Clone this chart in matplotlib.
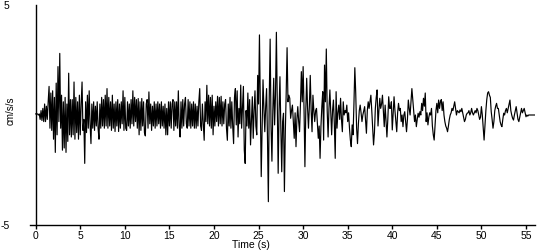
import numpy as np
import matplotlib
matplotlib.use("Agg")
import matplotlib.pyplot as plt

plt.rcParams['font.family'] = ['Liberation Sans', 'DejaVu Sans']

# sampling interval (s) of the hand-read trace
dt = 0.1

# acceleration values (cm/s/s), one row per second
accel = [
    0.05, 0.05, 0.05, 0.0, 0.05, -0.2, 0.2, -0.25, 0.3, -0.3,
    0.5, -0.3, 0.4, -0.2, 0.6, 1.3, -0.6, 1.0, -0.7, 1.1,
    -1.1, 0.8, -1.7, 1.45, -0.9, 2.2, -0.3, 2.8, -0.6, 0.9,
    -1.6, 0.6, -1.5, 0.8, -1.7, 0.5, -1.2, 1.9, -0.9, 0.7,
    -1.0, 0.7, -0.9, 1.5, -1.1, 0.8, -0.8, 0.6, -1.1, 0.9,
    -0.9, 0.5, 1.5, -0.7, -0.2, -2.2, 0.6, -0.8, 0.9, -0.6,
    1.1, -0.4, -1.3, 0.5, -0.6, 0.6, -0.7, 0.4, -0.5, 0.6,
    -0.6, -1.1, 0.5, -0.6, 0.8, -0.5, 0.7, -0.6, 0.9, -0.5,
    1.2, -0.6, 0.8, -0.5, 0.6, -0.7, 0.9, -0.6, 0.5, -0.75,
    0.6, -0.5, 0.7, -0.75, 0.5, -0.6, 0.6, -0.4, 1.1, -0.7,
    0.8, -0.6, -0.7, 0.6, -0.5, 0.5, -0.6, 0.7, -0.4, 1.1,
    -0.5, 0.8, -0.3, 0.7, -0.6, 0.75, -0.9, 0.6, -0.7, 0.75,
    -0.5, 0.6, -0.8, -0.95, 0.5, 0.7, -0.6, 1.05, -0.4, 0.5,
    -0.7, 0.4, -0.5, 0.6, -0.6, 0.5, -0.5, 0.6, -0.4, 0.5,
    -0.6, 0.6, -0.5, 0.4, -0.6, 0.5, -0.9, 0.3, -0.9, 0.6,
    -0.5, 0.6, -0.6, 0.5, 0.7, -0.7, 0.6, -0.5, 0.6, -0.6,
    1.1, -0.5, -1.0, 0.6, -0.6, 0.7, -0.5, 0.5, 0.8, -0.4,
    -0.6, 0.7, -0.5, 0.6, -0.6, 0.5, -0.5, 0.6, -0.6, 0.5,
    -0.6, 0.4, -0.5, 0.6, 1.2, -0.5, -0.7, 0.5, -0.4, -1.15,
    0.6, -0.3, 1.35, -0.4, 0.9, -0.5, 0.8, -0.6, 0.9, -0.9,
    0.4, -0.5, 0.6, -0.3, 0.85, -0.5, 0.8, -0.4, 0.85, -0.5,
    0.6, -0.4, 0.5, 0.7, -0.6, -1.15, 0.5, -0.5, 0.8, -0.6,
    0.6, -0.5, -1.3, 0.8, 1.2, -0.45, 1.1, -1.0, 0.3, -0.4,
    1.36, -0.6, 0.4, 1.3, -1.6, -2.2, 0.2, -0.5, 1.0, -0.6,
    0.7, -1.36, -0.3, 0.83, -1.06, 0.2, 1.1, -0.5, -0.9, 1.8,
    0.5, 3.64, 0.3, -2.8, -0.5, 1.6, 0.3, -0.76, 0.4, 1.2,
    -1.0, -3.94, 0.8, 3.45, -0.5, -2.1, 0.2, 1.67, -0.45, 0.9,
    3.76, 0.5, -2.65, 0.2, 1.74, -0.6, -2.58, -0.3, 0.08, -3.48,
    -0.8, 1.0, 3.06, 0.6, 0.9, 0.76, -0.15, 0.2, 0.45, -0.3,
    -1.06, 0.1, -1.44, -0.2, 0.38, -0.3, -0.76, 0.5, 1.97, 0.6,
    2.2, 0.3, -2.35, 0.2, 1.67, 0.3, -0.6, 0.4, 1.8, 0.2,
    -0.76, 0.9, 0.2, -0.3, 0.2, 0.3, -0.4, -1.06, -0.5, -1.97,
    -0.5, 0.4, 1.06, -1.14, 2.27, 0.6, 3.0, 0.2, -1.0, 0.3,
    1.14, 0.1, -0.9, 0.2, 0.68, -0.4, -1.97, 1.06, -0.6, 0.1,
    0.45, -0.2, 0.76, -0.2, -0.76, 0.6, 0.0, 0.2, 0.1, 0.45,
    -0.3, 0.1, -0.6, -1.14, -1.44, -0.45, -0.9, 0.5, 2.15, 1.0,
    -0.6, -1.3, -0.4, 0.2, 0.45, 0.1, -0.3, 0.0, 0.2, 0.38,
    -0.2, -0.83, 0.2, 0.6, 0.3, 0.6, 0.9, 0.2, -0.6, -1.36,
    -0.8, 0.3, 0.8, 1.14, -0.5, 0.2, 0.76, 0.3, 0.5, 0.9,
    0.2, -0.53, 0.45, -0.3, -1.0, -0.2, 0.83, 0.3, 0.3, 0.6,
    -0.68, 0.1, 0.83, 0.2, -0.3, -0.76, 0.1, 0.53, 0.2, 0.3,
    -0.3, 0.0, -0.53, 0.0, 0.15, -0.3, -0.76, -0.2, 0.68, 0.3,
    0.0, 0.6, 1.2, 0.7, 0.2, -0.3, 0.0, -0.53, -0.2, 0.08,
    -0.1, 0.15, 0.0, 0.53, 0.2, 0.76, 0.4, 1.0, -0.3, 0.1,
    -0.45, -0.1, 0.1, 0.0, 0.3, -0.5, -0.9, -1.14, -0.45, 0.2,
    0.53, 0.1, 0.68, 0.3, 0.6, 0.7, 0.2, 0.6, 0.0, -0.3,
    -0.5, -0.6, -0.76, -0.5, -0.2, 0.0, 0.1, 0.3, 0.2, 0.4,
    0.6, 0.3, 0.0, 0.2, 0.15, 0.1, 0.23, 0.15, 0.3, 0.1,
    -0.1, -0.3, -0.2, 0.0, 0.08, 0.1, 0.2, 0.0, 0.1, 0.3,
    0.1, 0.0, 0.1, 0.2, 0.1, 0.3, 0.2, 0.0, -0.2, -0.1,
    0.38, 0.0, -0.6, -1.14, -0.5, 0.2, 0.7, 1.0, 1.06, 0.9,
    0.8, 0.15, -0.2, -0.6, -0.3, 0.2, 0.4, 0.53, 0.3, 0.3,
    0.0, -0.3, -0.45, -0.53, -0.2, 0.08, 0.0, 0.2, 0.3, 0.1,
    0.3, 0.5, 0.68, 0.2, 0.0, -0.15, -0.23, 0.0, 0.2, 0.38,
    0.1, -0.2, -0.3, -0.1, 0.1, 0.3, 0.1, 0.2, 0.3, 0.1,
    -0.08, 0.0, -0.05, 0.0, 0.0, 0.0, 0.0, 0.0, 0.0, 0.0,
    0.0,
]

x_ticks = [0, 5, 10, 15, 20, 25, 30, 35, 40, 45, 50, 55]
y_ticks = [-5, 5]
x_label = "Time (s)"
y_label = "cm/s/s"

t = np.arange(len(accel)) * dt

fig = plt.figure(figsize=(5.5, 2.5), dpi=100)
W, H = 550, 250
left_px, right_px = 30.35, 534.9
top_px, bot_px = 5, 225
ax = fig.add_axes([left_px / W, (H - bot_px) / H,
                   (right_px - left_px) / W, (bot_px - top_px) / H])

ax.plot(t, accel, color='black', lw=0.85)

ax.set_xlim(-0.6, 56)
ax.set_ylim(-5, 5)

ax.spines['top'].set_visible(False)
ax.spines['right'].set_visible(False)
ax.spines['left'].set_position(('data', 0))
for s in ('left', 'bottom'):
    ax.spines[s].set_linewidth(1.0)

ax.set_xticks(x_ticks)
ax.set_xticklabels([str(v) for v in x_ticks])
ax.tick_params(axis='x', direction='out', length=3, width=1, pad=1.5, labelsize=7.5)
ax.set_yticks(y_ticks)
ax.set_yticklabels([str(v) for v in y_ticks])
ax.tick_params(axis='y', length=0, pad=19, labelsize=7.5)

ax.set_xlabel(x_label, fontsize=7.5)
ax.xaxis.set_label_coords(0.437, -0.07)
ax.set_ylabel(y_label, fontsize=7)
ax.yaxis.set_label_coords(-0.0294, 0.52)

fig.savefig("out.png", dpi=100)
